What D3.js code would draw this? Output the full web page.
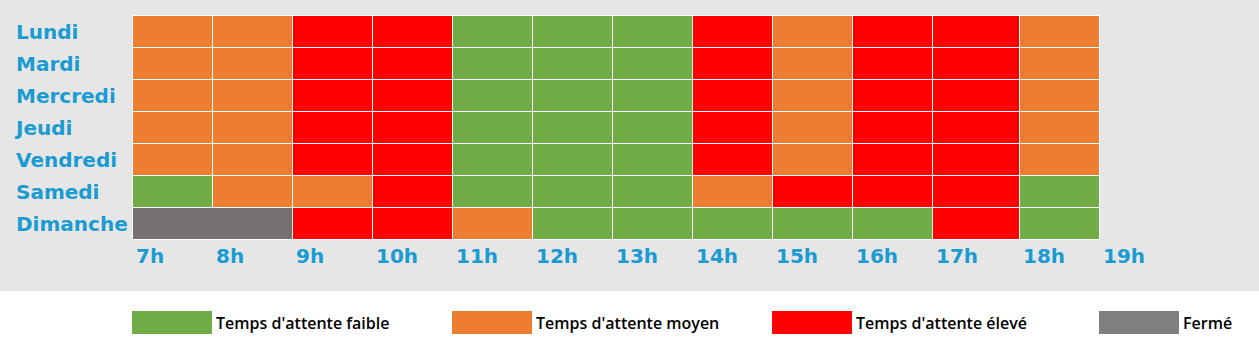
<!DOCTYPE html>
<html><head><meta charset="utf-8">
<script src="https://cdn.jsdelivr.net/npm/d3@7"></script>
<style>html,body{margin:0;padding:0;background:#fff;}svg{display:block;}</style>
</head><body>
<svg id="chart" width="1259" height="358"></svg>
<script>
const days = ["Lundi","Mardi","Mercredi","Jeudi","Vendredi","Samedi","Dimanche"];
const hours = [7,8,9,10,11,12,13,14,15,16,17,18];
const tickHours = [7,8,9,10,11,12,13,14,15,16,17,18,19];
const tickLabels = ["7h","8h","9h","10h","11h","12h","13h","14h","15h","16h","17h","18h","19h"];
// F = faible, M = moyen, E = élevé, X = fermé
const lundi    = ["M","M","E","E","F","F","F","E","M","E","E","M"];
const mardi    = ["M","M","E","E","F","F","F","E","M","E","E","M"];
const mercredi = ["M","M","E","E","F","F","F","E","M","E","E","M"];
const jeudi    = ["M","M","E","E","F","F","F","E","M","E","E","M"];
const vendredi = ["M","M","E","E","F","F","F","E","M","E","E","M"];
const samedi   = ["F","M","M","E","F","F","F","M","E","E","E","F"];
const dimanche = ["X","X","E","E","M","F","F","F","F","F","E","F"];
const levels = ["F","M","E","X"];
const legendLabels = ["Temps d'attente faible","Temps d'attente moyen","Temps d'attente élevé","Fermé"];
const legendHours = [7,11,15,19];

const grid = [lundi,mardi,mercredi,jeudi,vendredi,samedi,dimanche];
const cellColor = d3.scaleOrdinal().domain(levels).range(["#70ad47","#ed7d31","#ff0000","#767171"]);
const legendColor = d3.scaleOrdinal().domain(levels).range(["#70ad47","#ed7d31","#ff0000","#7f7f7f"]);

const svg = d3.select("#chart");
svg.append("rect").attr("x",0).attr("y",0).attr("width",1259).attr("height",291).attr("fill","#e7e6e6");

const x = d3.scaleLinear().domain([7,17,18,19]).range([132,932,1019,1099]);
const y = d3.scaleBand().domain(days).range([15.5,239.5]);

// build runs (merge consecutive closed cells)
const cells = [];
grid.forEach((row,i)=>{
  let j=0;
  while(j<row.length){
    let k=j+1;
    if(row[j]==="X"){ while(k<row.length && row[k]==="X") k++; }
    cells.push({day:days[i], h0:hours[j], h1:hours[k-1]+1, v:row[j]});
    j=k;
  }
});

svg.append("g").selectAll("rect").data(cells).join("rect")
  .attr("x",d=>x(d.h0)+0.5).attr("y",d=>y(d.day))
  .attr("width",d=>x(d.h1)-x(d.h0)).attr("height",y.bandwidth())
  .attr("fill",d=>cellColor(d.v))
  .attr("stroke","#fff").attr("stroke-width",1);

const labelFont = "'DejaVu Sans', sans-serif";
svg.append("g").selectAll("text").data(days).join("text")
  .attr("x",16).attr("y",d=>y(d)+y.bandwidth()/2+7.5)
  .attr("fill","#1a9bd1").attr("font-family",labelFont).attr("font-weight","bold")
  .attr("font-size",20).text(d=>d);

svg.append("g").selectAll("text").data(tickHours).join("text")
  .attr("x",d=>x(d)+4).attr("y",263)
  .attr("fill","#1a9bd1").attr("font-family",labelFont).attr("font-weight","bold")
  .attr("font-size",20).text((d,i)=>tickLabels[i]);

const lg = svg.append("g").selectAll("g").data(levels).join("g");
lg.append("rect").attr("x",(d,i)=>x(legendHours[i])).attr("y",311).attr("width",80).attr("height",23)
  .attr("fill",d=>legendColor(d));
lg.append("text").attr("x",(d,i)=>x(legendHours[i])+84).attr("y",329)
  .attr("font-family","'Open Sans', sans-serif").attr("font-weight",600).attr("font-size",16)
  .attr("fill","#000").text((d,i)=>legendLabels[i]);
</script>
</body></html>
